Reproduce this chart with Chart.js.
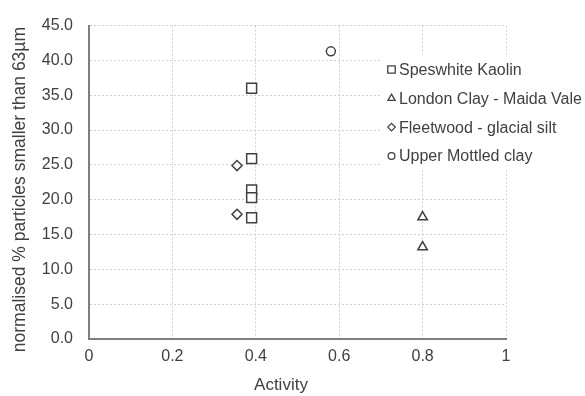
<!DOCTYPE html>
<html>
<head>
<meta charset="utf-8">
<script src="https://cdn.jsdelivr.net/npm/chart.js@4"></script>
<style>
  html, body { margin: 0; padding: 0; background: #fff; }
  #chart { display: block; }
</style>
</head>
<body>
<canvas id="chart" width="585" height="396"></canvas>
<script>
// Data
const speswhiteX = [0.39, 0.39, 0.39, 0.39, 0.39];
const speswhiteY = [36.0, 25.9, 21.4, 20.3, 17.4];
const londonX = [0.80, 0.80];
const londonY = [17.5, 13.2];
const fleetwoodX = [0.355, 0.355];
const fleetwoodY = [24.9, 17.9];
const mottledX = [0.58];
const mottledY = [41.3];

const seriesNames = ["Speswhite Kaolin", "London Clay - Maida Vale", "Fleetwood - glacial silt", "Upper Mottled clay"];
const xTitle = "Activity";
const yTitle = "normalised % particles smaller than 63\u00b5m";

const ink = "#404040";
const pts = (xs, ys) => xs.map((x, i) => ({ x: x, y: ys[i] }));

function series(label, data, style, r) {
  return {
    label: label, data: data, pointStyle: style, pointRadius: r, pointHoverRadius: r,
    borderColor: ink, backgroundColor: "#fff", pointBorderWidth: 1.5, showLine: false,
  };
}

/* legend drawn inside the plot, on a white box */
const insideLegend = {
  id: "insideLegend",
  afterDraw(chart) {
    const ctx = chart.ctx;
    ctx.save();
    ctx.fillStyle = "#fff";
    ctx.fillRect(381, 55, 204, 115);
    ctx.font = "16px 'Liberation Sans', Arial, sans-serif";
    ctx.textBaseline = "middle";
    ctx.textAlign = "left";
    chart.data.datasets.forEach((ds, i) => {
      const y = 69.5 + i * 28.8;
      ctx.strokeStyle = ink;
      ctx.fillStyle = "#fff";
      ctx.lineWidth = 1.3;
      Chart.helpers.drawPoint(ctx, { pointStyle: ds.pointStyle, radius: ds.pointRadius * 0.75, borderWidth: 1.3 }, 391.5, y);
      ctx.fillStyle = ink;
      ctx.fillText(ds.label, 399, y + 1);
    });
    ctx.restore();
  }
};

new Chart(document.getElementById("chart"), {
  type: "scatter",
  data: {
    datasets: [
      series(seriesNames[0], pts(speswhiteX, speswhiteY), "rect", 7),
      series(seriesNames[1], pts(londonX, londonY), "triangle", 5.5),
      series(seriesNames[2], pts(fleetwoodX, fleetwoodY), "rectRot", 5),
      series(seriesNames[3], pts(mottledX, mottledY), "circle", 4.5),
    ],
  },
  options: {
    responsive: false,
    animation: false,
    layout: { padding: { top: 19, right: 79, left: 0, bottom: 0 } },
    plugins: { legend: { display: false }, tooltip: { enabled: false } },
    scales: {
      x: {
        type: "linear", min: 0, max: 1,
        ticks: { stepSize: 0.2, color: ink, padding: 8, font: { size: 16, family: "'Liberation Sans', Arial" },
          callback: v => (Math.round(v * 10) / 10).toString() },
        grid: { color: "#cfcfcf", drawTicks: false },
        border: { color: "#7f7f7f", width: 2, dash: [2, 2] },
        title: { display: true, text: xTitle + "       ", color: ink, padding: { top: 0, bottom: 0 },
          font: { size: 17, family: "'Liberation Sans', Arial" } },
        afterFit: s => { s.height = 57; },
      },
      y: {
        min: 0, max: 45,
        ticks: { stepSize: 5, color: ink, padding: 16, font: { size: 16, family: "'Liberation Sans', Arial" },
          callback: v => v.toFixed(1) },
        grid: { color: "#cfcfcf", drawTicks: false },
        border: { color: "#7f7f7f", width: 2, dash: [2, 2] },
        title: { display: true, text: yTitle + "   ", color: ink, padding: { top: 10, bottom: 0 },
          font: { size: 17.5, family: "'Liberation Sans', Arial" } },
        afterFit: s => { s.width = 89; },
      },
    },
  },
  plugins: [insideLegend],
});
</script>
</body>
</html>
